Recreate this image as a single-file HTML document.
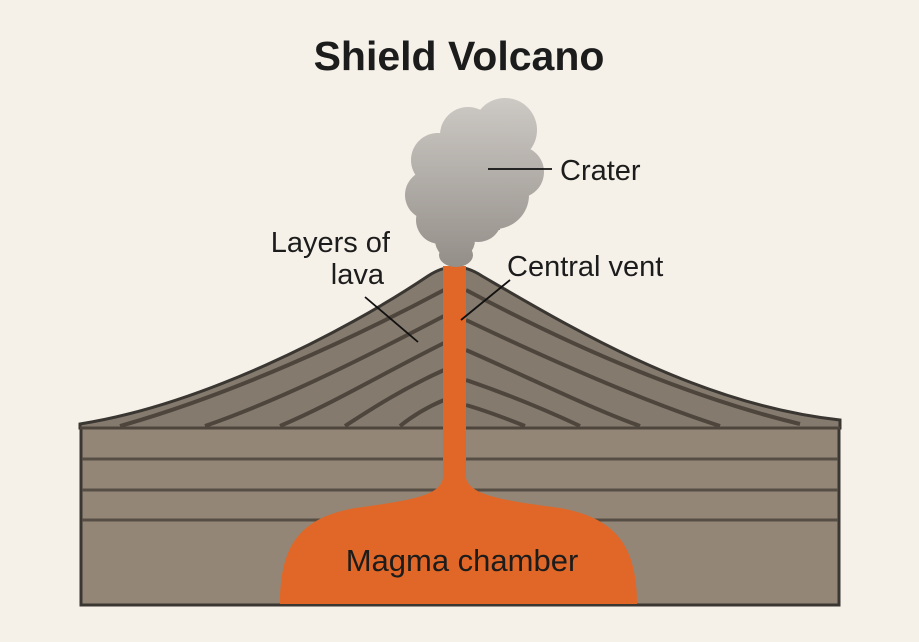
<!DOCTYPE html>
<html><head><meta charset="utf-8"><style>
html,body{margin:0;padding:0;background:#f5f0e8;}
svg{display:block}
text{font-family:"Liberation Sans",sans-serif;fill:#1c1c1c}
</style></head><body>
<svg width="919" height="642" viewBox="0 0 919 642">
<defs>
<linearGradient id="cg" gradientUnits="userSpaceOnUse" x1="0" y1="100" x2="0" y2="265"><stop offset="0" stop-color="#ccc8c3"/><stop offset="1" stop-color="#948f89"/></linearGradient>
</defs>
<rect width="919" height="642" fill="#f5f0e8"/>
<text x="459" y="70" font-size="41" font-weight="bold" text-anchor="middle">Shield Volcano</text>
<rect x="81" y="425" width="758" height="180" fill="#948676" stroke="#3a3631" stroke-width="3"/>
<g stroke="#564e45" stroke-width="3">
<line x1="82" y1="459" x2="838" y2="459"/>
<line x1="82" y1="490" x2="838" y2="490"/>
<line x1="82" y1="520" x2="838" y2="520"/>
</g>
<path d="M80,424 C200,405 340,335 428,276 Q455,258 482,276 C575,330 700,405 840,420 L840,428 L80,428 Z" fill="#857a6e" stroke="#3a3631" stroke-width="3"/>
<g stroke="#4e463d" stroke-width="4" fill="none">
<path d="M444,290 C350,340 230,395 120,426"/>
<path d="M444,316 C360,360 280,400 205,426"/>
<path d="M444,343 C380,375 330,405 280,426"/>
<path d="M444,370 C400,390 370,410 345,426"/>
<path d="M444,400 C425,408 410,418 400,426"/>
<path d="M466,290 C560,340 680,395 800,424"/>
<path d="M466,320 C550,360 640,400 720,426"/>
<path d="M466,350 C530,378 590,408 640,426"/>
<path d="M466,380 C510,395 550,412 580,426"/>
<path d="M466,405 C490,412 510,420 525,426"/>
</g>
<line x1="80" y1="428" x2="840" y2="428" stroke="#4e463d" stroke-width="3"/>
<path d="M443,266 L466,266 L466,478 C470,495 500,500 560,508 C615,518 637,545 637,604 L280,604 C280,545 300,518 355,508 C415,500 440,495 443,478 Z" fill="#e06727"/>
<g fill="url(#cg)">
<circle cx="505" cy="130" r="32"/>
<circle cx="468" cy="135" r="28"/>
<circle cx="438" cy="160" r="27"/>
<circle cx="518" cy="172" r="26"/>
<circle cx="430" cy="195" r="25"/>
<circle cx="495" cy="195" r="34"/>
<circle cx="462" cy="180" r="34"/>
<circle cx="440" cy="220" r="24"/>
<circle cx="478" cy="218" r="24"/>
<circle cx="455" cy="240" r="20"/>
<ellipse cx="456" cy="255" rx="17" ry="12"/>
<rect x="430" y="150" width="70" height="80"/>
</g>
<g stroke="#111" stroke-width="1.8">
<line x1="488" y1="169" x2="552" y2="169"/>
<line x1="418" y1="342" x2="365" y2="297"/>
<line x1="461" y1="320" x2="510" y2="280"/>
</g>
<text x="560" y="180" font-size="29">Crater</text>
<text x="507" y="276" font-size="29">Central vent</text>
<text x="390" y="252" font-size="29" text-anchor="end">Layers of</text>
<text x="384" y="284" font-size="29" text-anchor="end">lava</text>
<text x="462" y="571" font-size="31" text-anchor="middle">Magma chamber</text>
</svg>
</body></html>
